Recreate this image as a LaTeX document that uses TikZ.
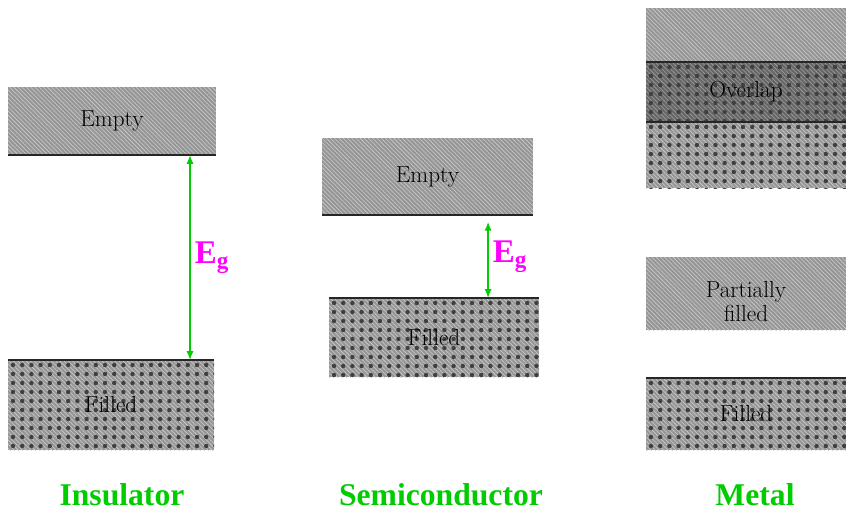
\documentclass[tikz,border=0pt]{standalone}
\usepackage{fontspec}
\newfontfamily\labelfont{Liberation Serif}
\usepackage{xcolor}
\usetikzlibrary{arrows.meta,positioning,fit,calc,patterns}

\definecolor{kindgreen}{RGB}{0,204,0}
\definecolor{gapmagenta}{RGB}{255,0,255}

\begin{document}
\begin{tikzpicture}[
    x=0.25mm, y=-0.25mm,
    band/.style={inner sep=0pt, outer sep=0pt,
                 preaction={fill=gray!82}, pattern=north west lines,
                 pattern color=gray!40},
    emptyband/.style={band},
    dots/.style={path picture={
        \foreach \i in {0,...,23} \foreach \j in {0,...,10}
          \fill[black!75] ($(path picture bounding box.north west)+(\i*9.2+5,\j*9+5)$)
            circle (0.55mm);}},
    filledband/.style={band, dots},
    overlapband/.style={band, preaction={fill=black!60}, pattern color=gray!75, dots},
    bandtext/.style={align=center, font=\fontsize{16.5}{19}\selectfont, text=black},
    bandedge/.style={line width=0.7mm, black!85},
    gaparrow/.style={{Latex[length=2.2mm,width=1.8mm]}-{Latex[length=2.2mm,width=1.8mm]},
                     line width=0.4mm, kindgreen},
    gaplabel/.style={font=\labelfont\bfseries\fontsize{23.5}{26}\selectfont,
                     text=gapmagenta, inner sep=1mm},
    kindlabel/.style={font=\labelfont\bfseries\fontsize{22.5}{26}\selectfont,
                      text=kindgreen}
]
\useasboundingbox (0,0) rectangle (846,512);

% ---------- Insulator ----------
\node[emptyband, fit={(8,87) (216,155)}] (insE) {};
\node[filledband, fit={(8,360) (214,450)}] (insF) {};
\node[bandtext] (insEt) at (insE.center) {Empty};
\node[bandtext] (insFt) at (insF.center) {Filled};
\draw[bandedge] (insE.south west) -- (insE.south east);
\draw[bandedge] (insF.north west) -- (insF.north east);
\coordinate (insG) at ($(insE.south west)!0.875!(insE.south east)$);
\draw[gaparrow] (insG) -- node[gaplabel, midway, right] {E\textsubscript{g}} (insG |- insF.north);
\node[kindlabel] (insT) at (122,495) {Insulator};

% ---------- Semiconductor ----------
\node[emptyband, fit={(322,138) (533,215)}] (semE) {};
\node[filledband, fit={(329,298) (539,377)}] (semF) {};
\node[bandtext] (semEt) at (semE.center) {Empty};
\node[bandtext] (semFt) at (semF.center) {Filled};
\draw[bandedge] (semE.south west) -- (semE.south east);
\draw[bandedge] (semF.north west) -- (semF.north east);
\coordinate (semG) at ($(semE.south west)!0.787!(semE.south east)$);
\draw[gaparrow, shorten <=1.7mm] (semG) -- node[gaplabel, midway, right] {E\textsubscript{g}} (semG |- semF.north);
\node[kindlabel] (semT) at (441,495) {Semiconductor};

% ---------- Metal ----------
\node[emptyband, fit={(646,8) (846,62)}] (metE) {};
\node[overlapband, fit={(646,62) (846,122)}] (metO) {};
\node[filledband, fit={(646,122) (846,188)}] (metL) {};
\node[bandtext] (metOt) at (metO.center) {Overlap};
\draw[bandedge] (metO.north west) -- (metO.north east);
\draw[bandedge] (metO.south west) -- (metO.south east);
\node[emptyband, fit={(646,257) (846,330)}] (metP) {};
\node[bandtext] (metPt) at ([yshift=-2mm]metP.center) {Partially\\[-2pt]filled};
\node[filledband, fit={(646,378) (846,450)}] (metF) {};
\node[bandtext] (metFt) at (metF.center) {Filled};
\draw[bandedge] (metF.north west) -- (metF.north east);
\node[kindlabel] (metT) at (755,495) {Metal};

\end{tikzpicture}
\end{document}
